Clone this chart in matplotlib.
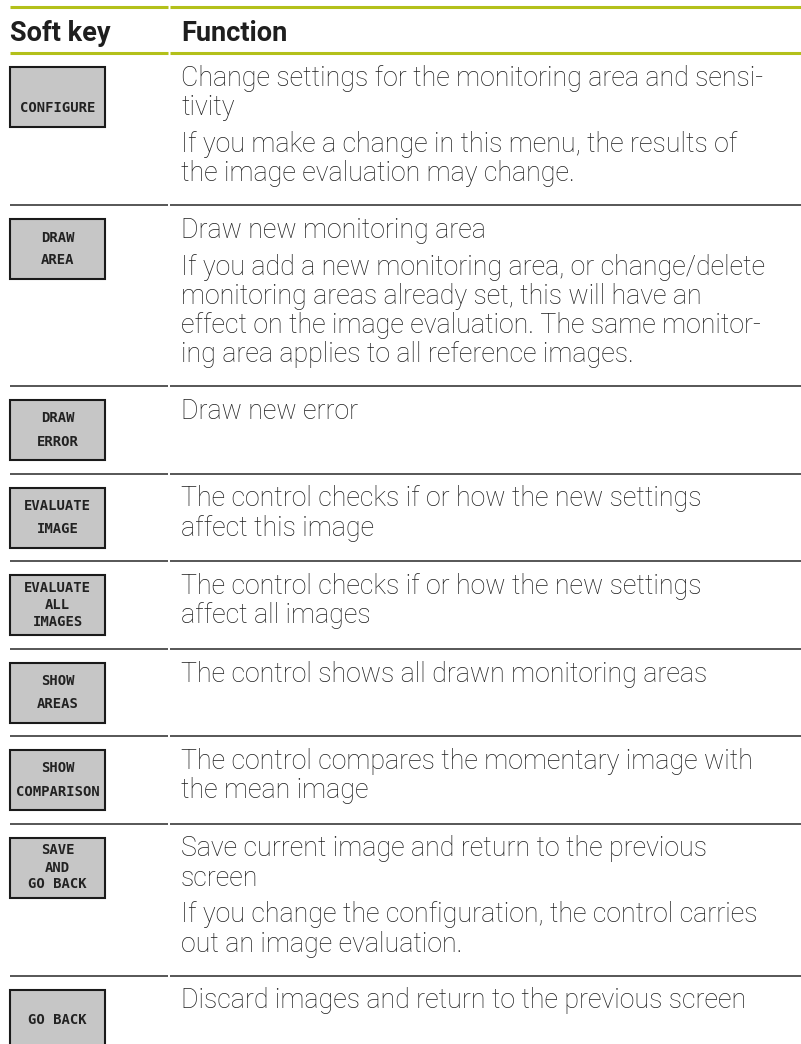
import matplotlib
matplotlib.use("Agg")
from matplotlib import pyplot as plt
from matplotlib.patches import Rectangle

header = ["Soft key", "Function"]

soft_keys = [
    ["", "CONFIGURE"],
    ["DRAW", "AREA"],
    ["DRAW", "ERROR"],
    ["EVALUATE", "IMAGE"],
    ["EVALUATE", "ALL", "IMAGES"],
    ["SHOW", "AREAS"],
    ["SHOW", "COMPARISON"],
    ["SAVE", "AND", "GO BACK"],
    ["GO BACK"],
]

functions = [
    [["Change settings for the monitoring area and sensi-", "tivity"],
     ["If you make a change in this menu, the results of",
      "the image evaluation may change."]],
    [["Draw new monitoring area"],
     ["If you add a new monitoring area, or change/delete",
      "monitoring areas already set, this will have an",
      "effect on the image evaluation. The same monitor-",
      "ing area applies to all reference images."]],
    [["Draw new error"]],
    [["The control checks if or how the new settings", "affect this image"]],
    [["The control checks if or how the new settings", "affect all images"]],
    [["The control shows all drawn monitoring areas"]],
    [["The control compares the momentary image with", "the mean image"]],
    [["Save current image and return to the previous", "screen"],
     ["If you change the configuration, the control carries",
      "out an image evaluation."]],
    [["Discard images and return to the previous screen"]],
]

W, H = 801, 1044
green = "#b3c01a"
txt = "#1e1e1e"
body_font = dict(family="Roboto", fontweight="light", fontsize=19.3, color=txt)

fig = plt.figure(figsize=(W / 100, H / 100), dpi=100)
ax = fig.add_axes([0, 0, 1, 1])
ax.set_xlim(0, W)
ax.set_ylim(H, 0)
ax.axis("off")

x_key, x_func, x_split = 10, 181, 169

def hline(y, color, lw):
    ax.plot([x_key, x_split - 1], [y, y], color=color, lw=lw, solid_capstyle="butt")
    ax.plot([x_split + 1, W], [y, y], color=color, lw=lw, solid_capstyle="butt")

# header
hline(7, green, 2.2)
for x, s in zip([x_key, x_func], header):
    ax.text(x, 41, s, family="Roboto", fontweight="bold", fontsize=19.5,
            color=txt, va="baseline")
hline(53, green, 2.2)

line_gap, para_gap = 29, 37
y0 = 53
for n, (key, paras) in enumerate(zip(soft_keys, functions)):
    # softkey button
    bt = y0 + 14
    ax.add_patch(Rectangle((x_key, bt), 95, 60, facecolor="#c6c6c6",
                           edgecolor="#1a1a1a", lw=1.5))
    cy = bt + 30
    if len(key) == 1:
        offs = [0]
    elif len(key) == 2:
        offs = [-11.5, 11.5]
    else:
        offs = [-17, 0, 17]
    for lab, o in zip(key, offs):
        ax.text(x_key + 47.5, cy + o, lab, family="DejaVu Sans Mono",
                fontweight="bold", fontsize=10, color="#222222",
                ha="center", va="center")
    # function text
    yb = y0 + 33
    for i, para in enumerate(paras):
        if i > 0:
            yb += para_gap
        for j, line in enumerate(para):
            if j > 0:
                yb += line_gap
            ax.text(x_func, yb, line, va="baseline", **body_font)
    y1 = max(yb + 24, y0 + 87.5)
    if n < len(soft_keys) - 1:
        hline(y1, "#3a3a3a", 1.2)
    y0 = y1

fig.savefig("out.png", dpi=100)
